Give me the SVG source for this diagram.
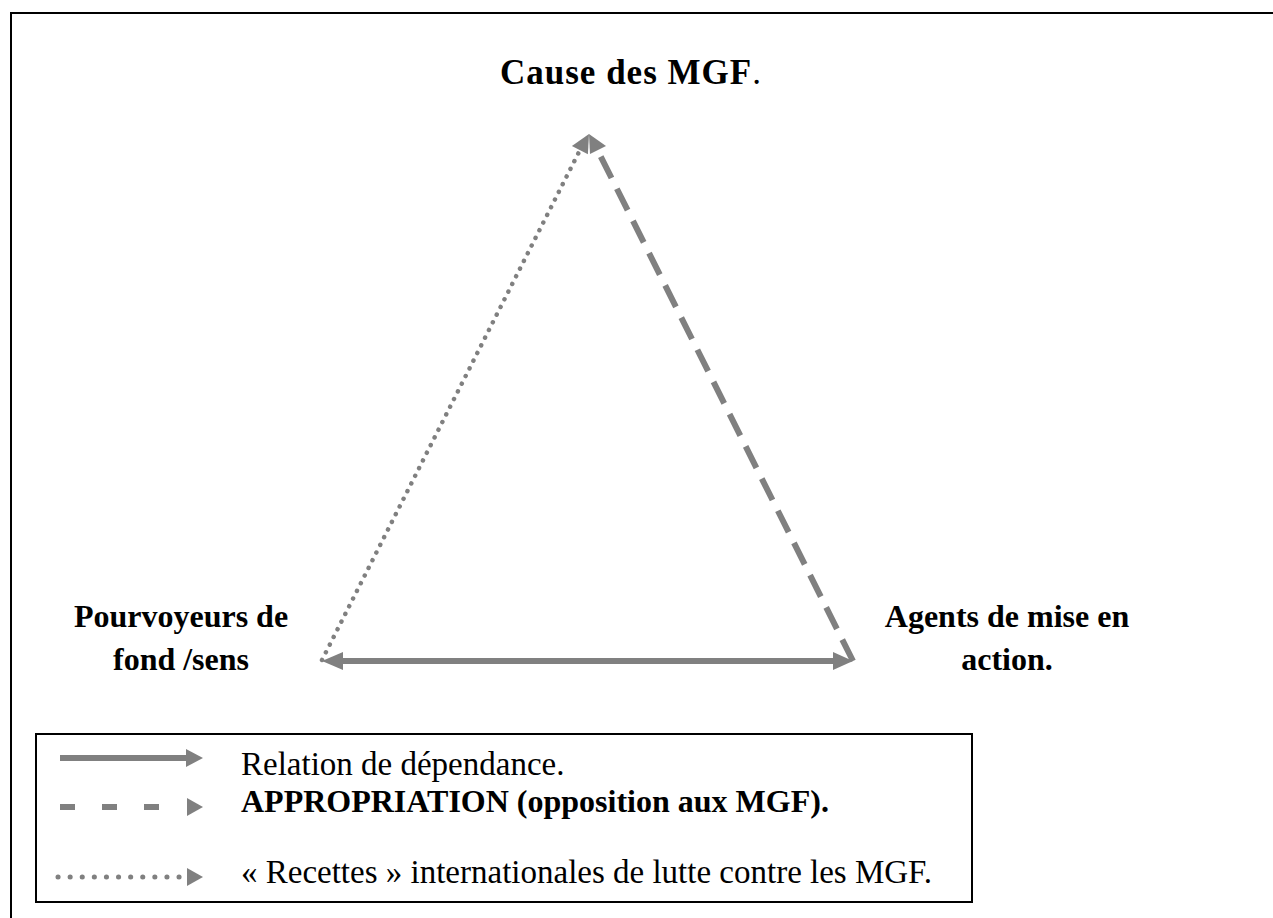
<svg xmlns="http://www.w3.org/2000/svg" width="1273" height="918" viewBox="0 0 1273 918">
<style>
.lbl{font-family:"Liberation Serif","Times New Roman",serif;font-weight:bold;font-size:32px;fill:#000}
.leg{font-family:"Liberation Serif","Times New Roman",serif;font-size:33px;fill:#000}
.solid{stroke:#808080;stroke-width:6;fill:none}
.dash{stroke:#808080;stroke-width:6;fill:none;stroke-dasharray:24 12}
.dot{stroke:#808080;stroke-width:4.5;fill:none;stroke-dasharray:0.1 8.5;stroke-linecap:round}
.head{fill:#808080}
</style>
<rect x="11" y="13" width="1280" height="930" fill="none" stroke="#000" stroke-width="2"/>
<g id="node-cause"><text class="lbl" x="500" y="84" style="font-size:35px;letter-spacing:1px">Cause des MGF<tspan font-weight="normal">.</tspan></text></g>
<g id="node-pourvoyeurs"><text class="lbl" x="181" y="627" text-anchor="middle">Pourvoyeurs de</text><text class="lbl" x="181" y="670" text-anchor="middle">fond /sens</text></g>
<g id="node-agents"><text class="lbl" x="1007" y="627" text-anchor="middle">Agents de mise en</text><text class="lbl" x="1007" y="670" text-anchor="middle">action.</text></g>
<g id="connectors">
<line class="solid" x1="340" y1="661" x2="836" y2="661"/>
<polygon class="head" points="322,661 343,652 343,670"/>
<polygon class="head" points="853,661 833,652 833,670"/>
<line class="dot" x1="322" y1="660" x2="580" y2="150"/>
<polygon class="head" points="589,134 587.9,154.2 571.9,146"/>
<line class="dash" x1="853" y1="661" x2="598" y2="151"/>
<polygon class="head" points="589,134 606,146.1 590,154.1"/>
</g>
<g id="legend">
<rect x="36" y="734" width="936" height="168" fill="none" stroke="#000" stroke-width="2"/>
<line class="solid" x1="60" y1="758" x2="189" y2="758"/>
<polygon class="head" points="203,758 186,749 186,767"/>
<line class="dash" x1="60" y1="807" x2="165" y2="807" style="stroke-dasharray:15 27"/>
<polygon class="head" points="203,807 187,798 187,816"/>
<line class="dot" x1="58" y1="877" x2="183" y2="877" style="stroke-dasharray:0.1 12;stroke-width:5"/>
<polygon class="head" points="203,877 187,868 187,886"/>
<text class="leg" x="241" y="775">Relation de dépendance.</text>
<text class="lbl" x="241" y="812">APPROPRIATION (opposition aux MGF).</text>
<text class="leg" x="241" y="883">« Recettes » internationales de lutte contre les MGF.</text>
</g>
</svg>
